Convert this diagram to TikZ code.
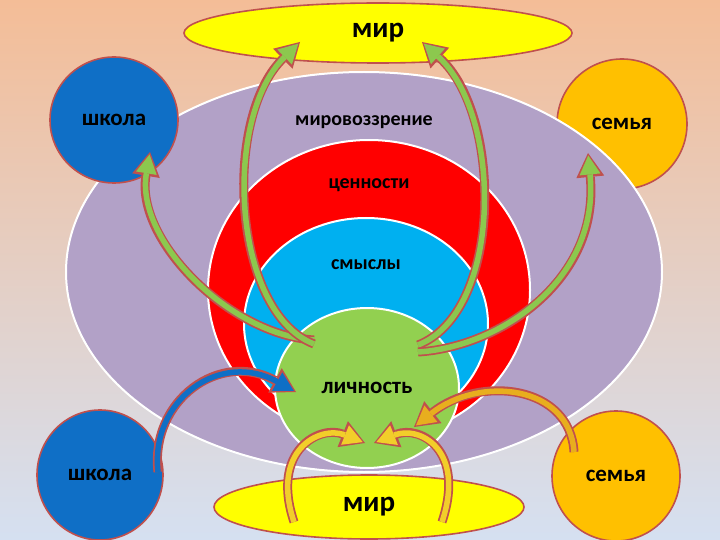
\documentclass[tikz,border=0pt]{standalone}
\usepackage{fontspec}
\setmainfont{Carlito}
\usepackage{xcolor}
\usetikzlibrary{arrows.meta}
\usetikzlibrary{calc}
\usetikzlibrary{positioning}
\usetikzlibrary{shapes.geometric}

\definecolor{brd}{HTML}{C0504D}
\definecolor{mirovcol}{HTML}{B2A1C7}
\definecolor{tsencol}{HTML}{FF0000}
\definecolor{smyslcol}{HTML}{00B0F0}
\definecolor{lichcol}{HTML}{92D050}
\definecolor{mircol}{HTML}{FFFF00}
\definecolor{shkcol}{HTML}{0F6FC6}
\definecolor{semcol}{HTML}{FFC000}
\definecolor{arrgreen}{HTML}{8CC84E}
\definecolor{arrblue}{HTML}{0F6FC6}
\definecolor{arrorange}{HTML}{E8AE1E}
\definecolor{arryellow}{HTML}{F2CE2A}
\definecolor{bgtop}{HTML}{F4BD97}
\definecolor{bgmid}{HTML}{E3D2CD}
\definecolor{bgbot}{HTML}{D5E0F1}

\begin{document}
\begin{tikzpicture}
[
	x = 1pt, y = -1pt,
	ring/.style	= {ellipse, draw = white, line width = 2pt, inner sep = 0pt},
	blob/.style	= {ellipse, draw = brd, line width = 1.6pt, inner sep = 0pt, font = \fontsize{23}{28}\selectfont\bfseries},
	mirblob/.style	= {blob, font = \fontsize{29}{34}\selectfont\bfseries},
	lbl/.style	= {inner sep = 0pt, font = \fontsize{20}{24}\selectfont\bfseries},
	blockarr/.style	= {draw = brd, line width = 9pt, -{Triangle[length = 24pt, width = 28pt, line width = 0pt]},
		postaction = {draw = #1, line width = 5.5pt, shorten > = 2.5pt, -{Triangle[length = 19pt, width = 21pt, line width = 0pt]}}},
]

	\useasboundingbox (0,0) rectangle (720,540);
	\fill [top color = bgtop, middle color = bgmid, bottom color = bgbot] (0,0) rectangle (720,540);

	\node (semT) [blob, fill = semcol, minimum width = 130pt, minimum height = 130pt] at (622,124) {семья};
	%
	\node (mirov) [ring, fill = mirovcol, minimum width = 596pt, minimum height = 400pt] at (364,272) {};
	\node (tsen) [ring, fill = tsencol, minimum width = 322pt, minimum height = 300pt] at (369,290) {};
	\node (smysl) [ring, fill = smyslcol, minimum width = 244pt, minimum height = 212pt] at (366,324) {};
	\node (lich) [ring, fill = lichcol, minimum width = 184pt, minimum height = 160pt, font = \fontsize{23}{28}\selectfont\bfseries] at (367,388) {личность};
	%
	\node (shkT) [blob, fill = shkcol, minimum width = 128pt, minimum height = 126pt] at (114,120) {школа};
	\node (mirT) [mirblob, fill = mircol, minimum width = 388pt, minimum height = 60pt] at (378,33) {мир};
	%
	\node (shkB) [blob, fill = shkcol, minimum width = 126pt, minimum height = 130pt] at (100,475) {школа};
	\node (semB) [blob, fill = semcol, minimum width = 128pt, minimum height = 130pt] at (616,476) {семья};
	\node (mirB) [mirblob, fill = mircol, minimum width = 310pt, minimum height = 64pt] at (369,507) {мир};

	\node (tMirov) [lbl, below = 51pt of mirov.north, anchor = center] {мировоззрение};
	\node (tTsen) [lbl, below = 46pt of tsen.north, anchor = center] {ценности};
	\node (tSmysl) [lbl, below = 48pt of smysl.north, anchor = center] {смыслы};

	% from the person outwards
	\draw [blockarr = arrgreen] ($(lich)+(-53,-48)$) .. controls +(-84,-5) and +(-15,88) .. ($(shkT)+(36,32)$);
	\draw [blockarr = arrgreen] ($(lich)+(-53,-44)$) .. controls +(-82,-32) and +(-78,76) .. ($(mirT)+(-78,9)$);
	\draw [blockarr = arrgreen] ($(lich)+(51,-43)$) .. controls +(85,-33) and +(81,73) .. ($(mirT)+(44,9)$);
	\draw [blockarr = arrgreen] ($(lich)+(51,-36)$) .. controls +(82,-5) and +(12,127) .. ($(semT)+(-34,29)$);
	%
	% back to the person
	\draw [blockarr = arrblue] ($(shkB)+(58,-3)$) .. controls +(-8,-72) and +(-76,-42) .. ($(lich)+(-71,4)$);
	\draw [blockarr = arrorange] ($(semB)+(-42,-24)$) .. controls +(-4,-67) and +(66,-52) .. ($(lich)+(47,39)$);
	\draw [blockarr = arryellow] ($(mirB)+(-75,15)$) .. controls +(-24,-72) and +(-45,-18) .. ($(lich)+(-2,55)$);
	\draw [blockarr = arryellow] ($(mirB)+(73,15)$) .. controls +(24,-72) and +(46,-18) .. ($(lich)+(7,55)$);

\end{tikzpicture}
\end{document}
